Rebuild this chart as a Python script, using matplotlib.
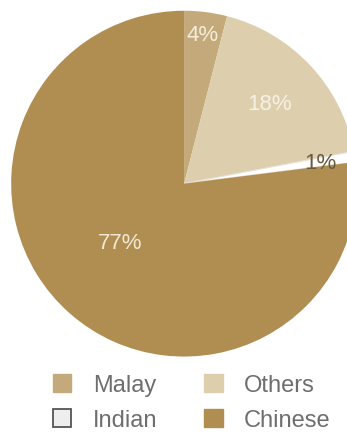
import matplotlib.pyplot as plt
import numpy as np
from matplotlib.patches import Patch

plt.rcParams["font.family"] = ["Liberation Sans", "DejaVu Sans"]

labels = ["Malay", "Others", "Indian", "Chinese"]
values = [4, 18, 1, 77]
pct_text = ["4%", "18%", "1%", "77%"]
colors = ["#c4aa7a", "#ddcfae", "#ffffff", "#b08e52"]
text_colors = ["#f4ecdc", "#f7f1e4", "#6b5a3e", "#f1e8d4"]

fig = plt.figure(figsize=(3.47, 4.35), dpi=100)
ax = fig.add_axes([0.032, 0.178, 0.997, 0.795])

wedges, _ = ax.pie(values, colors=colors, startangle=90, counterclock=False,
                   wedgeprops=dict(linewidth=0))
# thin outline for the white slice
wedges[2].set_edgecolor("#e8e2d6")
wedges[2].set_linewidth(0.8)

# label placement: radius and small angle shift per slice
text_radius = [0.87, 0.68, 0.80, 0.50]
angle_shift = [0, 0, 0, -6]
for w, t, c, r, s in zip(wedges, pct_text, text_colors, text_radius, angle_shift):
    ang = np.deg2rad((w.theta1 + w.theta2) / 2 + s)
    ax.text(r * np.cos(ang), r * np.sin(ang), t, ha="center", va="center",
            fontsize=16, color=c)
ax.set_xlim(-1, 1)
ax.set_ylim(-1, 1)
ax.set_aspect("equal")

handles = [Patch(facecolor=colors[0], edgecolor=colors[0], label="Malay"),
           Patch(facecolor="#eeeeee", edgecolor="#555555", linewidth=1.3, label="Indian"),
           Patch(facecolor=colors[1], edgecolor=colors[1], label="Others"),
           Patch(facecolor=colors[3], edgecolor=colors[3], label="Chinese")]
leg = fig.legend(handles=handles, ncol=2, loc="center", bbox_to_anchor=(0.553, 0.072),
                 frameon=False, fontsize=17, handlelength=0.78, handleheight=0.78,
                 columnspacing=2.0, handletextpad=0.9, labelspacing=0.55,
                 borderpad=0)
for txt in leg.get_texts():
    txt.set_color("#6e6e6e")

fig.savefig("out.png", dpi=100)
